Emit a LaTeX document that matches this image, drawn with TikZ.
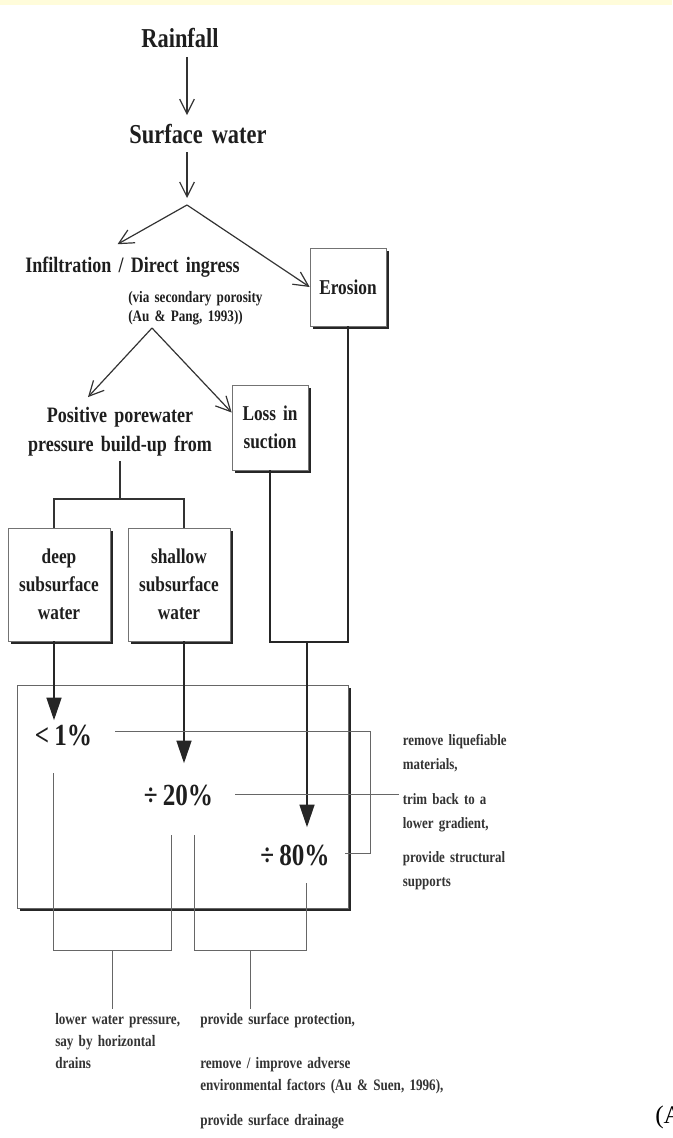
\documentclass[tikz,border=0pt]{standalone}
\usepackage{fontspec}
\setmainfont{Liberation Serif}[FakeStretch=0.82, WordSpace=1.6]
\newfontfamily\plainserif{Liberation Serif}
\usepackage{xcolor}
\usepackage{tikz}
\usetikzlibrary{
    positioning,
    arrows.meta,
    calc,
    shadows,
}
\definecolor{bandyellow}{RGB}{255,252,218}
\definecolor{inkgray}{RGB}{30,30,30}
\tikzset{
    % Text styles
    title text/.style={font=\bfseries\fontsize{20.5}{24}\selectfont, text=inkgray,
                       inner sep=0pt, outer sep=6.5pt},
    step text/.style={font=\bfseries\fontsize{16.5}{22}\selectfont, text=inkgray,
                      align=center, inner sep=3pt},
    note text/.style={font=\bfseries\fontsize{12}{14.3}\selectfont, text=inkgray,
                      align=left, inner sep=0pt},
    pct text/.style={font=\bfseries\fontsize{23}{26}\selectfont, text=inkgray, inner sep=0pt},
    remedy text/.style={font=\bfseries\fontsize{11.8}{18}\selectfont, text=black!80,
                        align=left, inner sep=3pt},
    measure text/.style={font=\bfseries\fontsize{12}{16.5}\selectfont, text=black!80,
                         align=left, inner sep=3pt},
    % Box styles
    shadow box/.style={rectangle, draw=black!55, line width=0.5pt, fill=white, align=center,
                       drop shadow={shadow xshift=2.3pt, shadow yshift=-2.3pt,
                                    fill=black!85, opacity=1},
                       font=\bfseries\fontsize{15.8}{21}\selectfont, text=inkgray},
    % Arrow styles
    light arrow/.style={-{Straight Barb[length=11pt, width=11pt]}, line width=0.9pt, draw=black!80},
    heavy line/.style={line width=1.9pt, draw=black!85},
    heavy arrow/.style={heavy line, -{Triangle[length=17pt, width=11pt]}},
    link line/.style={line width=1.3pt, draw=black!80},
    guide line/.style={line width=0.6pt, draw=black!60},
}

\begin{document}
\begin{tikzpicture}[x=0.75pt, y=-0.75pt]
    \useasboundingbox (0,0) rectangle (672,1138);
    \fill[bandyellow] (0,0) rectangle (672,5);

    % Rainfall and surface water
    \node[title text, anchor=base] (rain) at (180,48) {Rainfall};
    \node[title text, anchor=base] (surface) at (198,143) {Surface water};
    \coordinate (fork) at (187,205);
    \draw[light arrow] (rain.south -| fork) -- (surface.north -| fork);
    \draw[light arrow] (surface.south -| fork) -- ($(fork)+(0,-7)$);

    % Infiltration and erosion
    \node[step text, anchor=base] (infil) at (132.5,272) {Infiltration / Direct ingress};
    \node[note text, anchor=north west] (via) at (128,291)
        {(via secondary porosity\\(Au \& Pang, 1993))};
    \node[shadow box, minimum width=57pt, minimum height=58.5pt] (erosion) at (348,287) {Erosion};
    \draw[light arrow] (fork) -- ($(infil.north)+(-15,-8)$);
    \draw[light arrow] (fork) -- (erosion.west);

    % Porewater pressure and suction
    \coordinate (fork2) at (152,328);
    \node[step text] (pos) at (120,432) {Positive porewater\\pressure build-up from};
    \node[shadow box, minimum width=57pt, minimum height=63.75pt] (loss) at (270,427.5) {Loss in\\suction};
    \draw[light arrow] (fork2) -- ($(pos.north)+(-32,-6)$);
    \draw[light arrow] (fork2) -- ($(loss.west)+(0,-15)$);

    % Subsurface water boxes
    \node[shadow box, minimum width=76.5pt, minimum height=84.75pt] (deep) at (59,584.5)
        {deep\\subsurface\\water};
    \node[shadow box, minimum width=76.5pt, minimum height=84.75pt] (shallow) at (179,584.5)
        {shallow\\subsurface\\water};
    \coordinate (junction) at (120,499);
    \coordinate (deep in) at ($(deep.north)+(-5,0)$);
    \coordinate (shallow in) at ($(shallow.north)+(5,0)$);
    \draw[link line] (pos.south) -- (junction);
    \draw[link line] (deep in) |- (junction) -| (shallow in);

    % Frame of failure shares
    \draw[draw=black!60, line width=0.6pt, fill=white,
          drop shadow={shadow xshift=2.4pt, shadow yshift=-2.4pt, fill=black!85, opacity=1}]
        (17,685) rectangle (348,908);
    \node[pct text, anchor=base] (p1) at (63.5,745) {<\,1\%};
    \node[pct text, anchor=base] (p20) at (178.5,805) {÷\,20\%};
    \node[pct text, anchor=base] (p80) at (295,865) {÷\,80\%};

    % Heavy flows into the frame
    \coordinate (merge) at (307,642);
    \coordinate (deep out) at ($(deep.south)+(-5,0)$);
    \coordinate (shallow out) at ($(shallow.south)+(5,0)$);
    \draw[heavy line] (loss.south) |- (erosion.south |- merge) -- (erosion.south);
    \draw[heavy arrow] (merge) -- ($(merge |- p80.north)+(0,-17)$);
    \draw[heavy arrow] (deep out) -- ($(deep out |- p1.north)+(0,-4)$);
    \draw[heavy arrow] (shallow out) -- ($(shallow out |- p20.north)+(0,-21)$);

    % Remedial measures
    \node[remedy text, anchor=north west] (remedy) at (398.6,730)
        {remove liquefiable\\materials,\\[8pt]trim back to a\\lower gradient,\\[8pt]provide structural\\supports};
    \node[measure text, anchor=north west] (lower) at (51,1009)
        {lower water pressure,\\say by horizontal\\drains};
    \node[measure text, anchor=north west] (protect) at (196,1009)
        {provide surface protection,\\[16.5pt]remove / improve adverse\\environmental factors (Au \& Suen, 1996),\\[9.75pt]provide surface drainage};
    \node[font=\plainserif\fontsize{19}{22}\selectfont, anchor=base west, inner sep=0pt] (tag)
        at (655,1123) {(A};

    % Guide lines
    \coordinate (g1) at ($(p1.base east)+(23,-14)$);
    \coordinate (g20) at ($(p20.base east)+(22,-11)$);
    \coordinate (g80) at ($(p80.base east)+(15,-12)$);
    \coordinate (rcorner) at (370,0);
    \draw[guide line] (g1) -| (g80 -| rcorner) -- (g80);
    \draw[guide line] (g20) -- (g20 -| remedy.west);
    \coordinate (a1) at ($(p1.base)+(-10,28)$);
    \coordinate (a2) at ($(p20.base)+(-7.5,30)$);
    \coordinate (b1) at ($(p20.base)+(15.5,30)$);
    \coordinate (b2) at ($(p80.base)+(11,18)$);
    \coordinate (kneeA) at (112,950);
    \coordinate (kneeB) at (250,950);
    \draw[guide line] (a1) |- (kneeA) -| (a2);
    \draw[guide line] (b1) |- (kneeB) -| (b2);
    \draw[guide line] (kneeA) -- (kneeA |- lower.north);
    \draw[guide line] (kneeB) -- (kneeB |- protect.north);
\end{tikzpicture}
\end{document}
